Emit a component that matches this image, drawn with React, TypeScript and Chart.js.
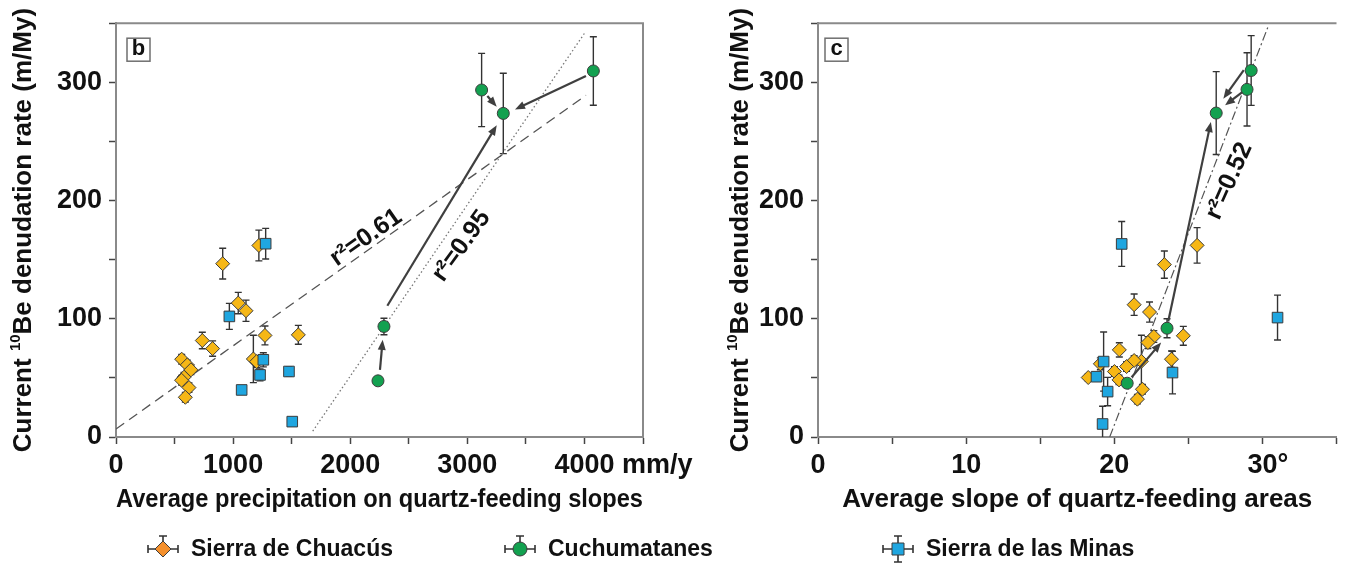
import React, { useEffect, useRef } from 'react';
import { Chart, registerables } from 'chart.js';

Chart.register(...registerables);

const FONT = '"Liberation Sans", Arial, Helvetica, sans-serif';

// ---------- Panel b : precipitation (mm/y) vs current 10Be denudation rate (m/My)
const precipChuacus = [911, 1044, 1110, 737, 825, 561, 609, 640, 581, 560, 623, 592, 1272, 1557, 1173, 1201, 1220];
const rateChuacusB = [146.6, 113.3, 106.8, 81.6, 74.8, 65.8, 61, 56.8, 50.6, 48, 41.8, 33.6, 85.9, 86.4, 66, 63.8, 162];
const errChuacusB = [13, 9, 9, 7, 6.5, 4, 4, 4, 4, 4, 4, 4, 8, 8, 20, 5, 13];

const precipCuchu = [2237, 2288, 3122, 3307, 4076];
const rateCuchuB = [47.5, 93.5, 293.5, 273.7, 309.6];
const errCuchuB = [0, 7, 31, 34, 29];

const precipMinas = [968, 1258, 1230, 1477, 1073, 1505, 1278];
const rateMinasB = [102, 65.3, 52.5, 55.4, 39.8, 13, 163.5];
const errMinasB = [11, 6, 5, 4, 0, 0, 13];

// regression lines (end points in data units)
const fitB061X = [0, 4013];
const fitB061Y = [6.8, 289];
const fitB095X = [1680, 4004];
const fitB095Y = [5, 342];

// arrows [x0, y0, x1, y1] in data units
const arrowsB = [
  [2254, 56.8, 2277, 82.2],
  [2317, 111, 3251, 263.6],
  [3171, 288.4, 3251, 279.4],
  [4013, 305.3, 3407, 277.1],
];

// ---------- Panel c : average slope (deg) vs current 10Be denudation rate (m/My)
const slopeChuacus = [25.59, 23.38, 21.34, 22.38, 24.66, 22.67, 22.27, 21.83, 20.34, 23.86, 21.34, 20.83, 20.01, 20.32, 19.06, 18.24, 21.9, 21.56];
const rateChuacusC = [162.1, 145.8, 111.9, 105.7, 85.6, 85, 79.9, 64, 73.7, 65.8, 64.7, 59.6, 55.4, 48.3, 61.9, 50.3, 40.4, 32];
const errChuacusC = [15, 11.5, 9, 8.5, 8, 5, 5, 22, 6, 7, 4, 4, 4, 4, 5, 3, 4, 4];

const slopeCuchu = [20.87, 23.56, 29.24, 28.96, 26.88];
const rateCuchuC = [45.5, 92, 310, 294, 274];
const errCuchuC = [0, 8, 29.5, 31, 35];

const slopeMinas = [20.5, 31.02, 23.93, 19.28, 18.8, 19.55, 19.21];
const rateMinasC = [163.3, 101, 54.5, 63.8, 51, 38.4, 11];
const errMinasC = [19, 19, 18, 25, 3, 12, 15];

const fitC052X = [19.69, 30.4];
const fitC052Y = [0, 347.7];

const arrowsC = [
  [28.74, 310.4, 27.36, 286.2],
  [28.64, 291.8, 27.48, 280.5],
  [23.64, 97.7, 26.52, 266.4],
  [21.17, 50.6, 23.16, 79.9],
];

const legendLabels = ['Sierra de Chuacús', 'Cuchumatanes', 'Sierra de las Minas'];

// ---------- styles
const GOLD = '#f6b716';
const ORANGE = '#f5902c';
const GREEN = '#13a150';
const BLUE = '#1fa6e0';
const EDGE = '#3c3c3c';
const AXIS = '#8a8a8a';
const TEXT = '#111111';

const zip = (xs: number[], ys: number[]) => xs.map((x, i) => ({ x, y: ys[i] }));

function drawArrow(ctx: CanvasRenderingContext2D, x0: number, y0: number, x1: number, y1: number) {
  const a = Math.atan2(y1 - y0, x1 - x0);
  const head = 10;
  const hw = 4;
  const c = Math.cos(a);
  const s = Math.sin(a);
  ctx.beginPath();
  ctx.moveTo(x0, y0);
  ctx.lineTo(x1 - c * head * 0.8, y1 - s * head * 0.8);
  ctx.stroke();
  ctx.beginPath();
  ctx.moveTo(x1, y1);
  ctx.lineTo(x1 - c * head + s * hw, y1 - s * head - c * hw);
  ctx.lineTo(x1 - c * head - s * hw, y1 - s * head + c * hw);
  ctx.closePath();
  ctx.fill();
}

function drawMarker(ctx: CanvasRenderingContext2D, kind: string, x: number, y: number, fill: string) {
  ctx.fillStyle = fill;
  ctx.strokeStyle = EDGE;
  ctx.lineWidth = 1;
  ctx.beginPath();
  if (kind === 'diamond') {
    const r = 8;
    ctx.moveTo(x - r, y);
    ctx.lineTo(x, y - r);
    ctx.lineTo(x + r, y);
    ctx.lineTo(x, y + r);
    ctx.closePath();
  } else if (kind === 'circle') {
    ctx.arc(x, y, 7, 0, Math.PI * 2);
  } else {
    ctx.rect(x - 6, y - 6, 12, 12);
  }
  ctx.fill();
  ctx.stroke();
}

function drawYTitle(ctx: CanvasRenderingContext2D, cx: number, cy: number) {
  const big = `bold 26px ${FONT}`;
  const small = `bold 15px ${FONT}`;
  const parts: [string, string, number][] = [
    ['Current ', big, 0],
    ['10', small, -8],
    ['Be denudation rate (m/My)', big, 0],
  ];
  ctx.save();
  ctx.translate(cx, cy);
  ctx.rotate(-Math.PI / 2);
  let total = 0;
  parts.forEach((p) => {
    ctx.font = p[1];
    total += ctx.measureText(p[0]).width;
  });
  let x = -total / 2;
  ctx.textAlign = 'left';
  ctx.textBaseline = 'middle';
  ctx.fillStyle = TEXT;
  parts.forEach((p) => {
    ctx.font = p[1];
    ctx.fillText(p[0], x, p[2]);
    x += ctx.measureText(p[0]).width;
  });
  ctx.restore();
}

const errorBarPlugin = {
  id: 'errorBars',
  beforeDatasetsDraw(chart: any) {
    const { ctx, chartArea, scales } = chart;
    const xs = scales.x;
    const ys = scales.y;
    ctx.save();
    ctx.beginPath();
    ctx.rect(chartArea.left, chartArea.top, chartArea.right - chartArea.left, chartArea.bottom - chartArea.top);
    ctx.clip();
    ctx.strokeStyle = '#333';
    ctx.lineWidth = 1.4;
    chart.data.datasets.forEach((ds: any) => {
      if (!ds.errors) return;
      ds.data.forEach((pt: any, i: number) => {
        const e = ds.errors[i];
        if (!e) return;
        const px = xs.getPixelForValue(pt.x);
        const top = ys.getPixelForValue(pt.y + e);
        const bot = ys.getPixelForValue(pt.y - e);
        ctx.beginPath();
        ctx.moveTo(px, top);
        ctx.lineTo(px, bot);
        ctx.moveTo(px - 3.5, top);
        ctx.lineTo(px + 3.5, top);
        ctx.moveTo(px - 3.5, bot);
        ctx.lineTo(px + 3.5, bot);
        ctx.stroke();
      });
    });
    ctx.restore();
  },
};

function makeConfig(p: any) {
  const tickFont = { family: FONT, size: 27, weight: 'bold' };
  const fitDatasets = p.fits.map((f: any) => ({
    label: f.name,
    data: zip(f.x, f.y),
    showLine: true,
    pointRadius: 0,
    borderColor: f.color,
    borderWidth: f.width,
    borderDash: f.dash,
    fill: false,
    order: 5,
  }));
  const annotPlugin = {
    id: 'annot' + p.letter,
    afterDatasetsDraw(chart: any) {
      const { ctx, scales } = chart;
      const xs = scales.x;
      const ys = scales.y;
      ctx.save();
      ctx.strokeStyle = '#3f3f3f';
      ctx.fillStyle = '#3f3f3f';
      ctx.lineWidth = 2.2;
      p.arrows.forEach((a: number[]) => {
        drawArrow(ctx, xs.getPixelForValue(a[0]), ys.getPixelForValue(a[1]), xs.getPixelForValue(a[2]), ys.getPixelForValue(a[3]));
      });
      ctx.restore();
    },
    afterDraw(chart: any) {
      const { ctx, chartArea, scales } = chart;
      const xs = scales.x;
      const ys = scales.y;
      ctx.save();
      // frame (top / right)
      ctx.strokeStyle = AXIS;
      ctx.lineWidth = 2;
      ctx.beginPath();
      ctx.moveTo(chartArea.left, chartArea.top);
      ctx.lineTo(chartArea.right, chartArea.top);
      if (p.closeRight) ctx.lineTo(chartArea.right, chartArea.bottom);
      ctx.stroke();

      // fit labels
      ctx.fillStyle = TEXT;
      ctx.font = `bold 25px ${FONT}`;
      ctx.textAlign = 'center';
      ctx.textBaseline = 'middle';
      p.labels.forEach((l: any) => {
        ctx.save();
        ctx.translate(xs.getPixelForValue(l.x), ys.getPixelForValue(l.y));
        ctx.rotate((l.angle * Math.PI) / 180);
        ctx.fillText(l.text, 0, 0);
        ctx.restore();
      });

      // panel letter
      const bx = chartArea.left + p.letterDx;
      const by = chartArea.top + 15;
      ctx.fillStyle = '#fff';
      ctx.strokeStyle = '#6f6f6f';
      ctx.lineWidth = 1.5;
      ctx.fillRect(bx, by, 23, 23);
      ctx.strokeRect(bx, by, 23, 23);
      ctx.fillStyle = TEXT;
      ctx.font = `bold 22px ${FONT}`;
      ctx.fillText(p.letter, bx + 11.5, by + 11);

      // unit suffix after last labelled tick
      ctx.font = `bold 27px ${FONT}`;
      const w = ctx.measureText(String(p.suffixValue)).width;
      ctx.textAlign = 'left';
      const ty = chartArea.bottom + 7 + 5 + (27 * 1.2) / 2;
      ctx.fillText(p.suffix, xs.getPixelForValue(p.suffixValue) + w / 2, ty);

      // y title
      drawYTitle(ctx, p.yTitleX, (chartArea.top + chartArea.bottom) / 2);

      // legend (drawn once, by panel b)
      if (p.legend) {
        const kinds = ['diamond', 'circle', 'square'];
        const fills = [ORANGE, GREEN, BLUE];
        const mx = [163, 520, 898];
        const my = 549;
        kinds.forEach((k, i) => {
          const x = mx[i];
          ctx.strokeStyle = '#333';
          ctx.lineWidth = 1.6;
          ctx.beginPath();
          ctx.moveTo(x - 15, my);
          ctx.lineTo(x + 15, my);
          ctx.moveTo(x - 15, my - 4);
          ctx.lineTo(x - 15, my + 4);
          ctx.moveTo(x + 15, my - 4);
          ctx.lineTo(x + 15, my + 4);
          ctx.moveTo(x, my);
          ctx.lineTo(x, my - 13);
          ctx.moveTo(x - 4, my - 13);
          ctx.lineTo(x + 4, my - 13);
          if (k === 'square') {
            ctx.moveTo(x, my);
            ctx.lineTo(x, my + 13);
            ctx.moveTo(x - 4, my + 13);
            ctx.lineTo(x + 4, my + 13);
          }
          ctx.stroke();
          drawMarker(ctx, k, x, my, fills[i]);
          ctx.fillStyle = TEXT;
          ctx.font = `bold 23px ${FONT}`;
          ctx.textAlign = 'left';
          ctx.textBaseline = 'middle';
          ctx.fillText(legendLabels[i], x + 28, my + 1);
        });
      }
      ctx.restore();
    },
  };

  return {
    type: 'scatter',
    data: {
      datasets: [
        {
          label: legendLabels[1],
          data: zip(p.cu[0], p.cu[1]),
          errors: p.cu[2],
          pointStyle: 'circle',
          pointRadius: 6,
          backgroundColor: GREEN,
          borderColor: EDGE,
          borderWidth: 1,
          order: 0,
        },
        {
          label: legendLabels[2],
          data: zip(p.mi[0], p.mi[1]),
          errors: p.mi[2],
          pointStyle: 'rect',
          pointRadius: 7.5,
          backgroundColor: BLUE,
          borderColor: EDGE,
          borderWidth: 1,
          order: 1,
        },
        {
          label: legendLabels[0],
          data: zip(p.ch[0], p.ch[1]),
          errors: p.ch[2],
          pointStyle: 'rectRot',
          pointRadius: 7,
          backgroundColor: GOLD,
          borderColor: EDGE,
          borderWidth: 1,
          order: 2,
        },
        ...fitDatasets,
      ],
    },
    options: {
      responsive: false,
      animation: false,
      devicePixelRatio: 1,
      events: [],
      layout: { padding: { left: p.padLeft, right: p.padRight, top: 23, bottom: 62.4 } },
      plugins: { legend: { display: false }, tooltip: { enabled: false } },
      scales: {
        x: {
          type: 'linear',
          min: 0,
          max: p.xMax,
          afterFit: (s: any) => {
            s.height = 78.6;
          },
          border: { display: true, color: AXIS, width: 2 },
          grid: { drawOnChartArea: false, drawTicks: true, tickLength: 7, tickColor: '#444', tickWidth: 1.5 },
          ticks: {
            stepSize: p.xStep,
            autoSkip: false,
            maxRotation: 0,
            padding: 5,
            color: TEXT,
            font: tickFont,
            callback: (v: number) => (v % p.xMajor === 0 && v <= p.suffixValue ? String(v) : ''),
          },
          title: {
            display: true,
            text: p.xTitle,
            color: TEXT,
            padding: 0,
            font: { family: FONT, size: 26, weight: 'bold' },
          },
        },
        y: {
          type: 'linear',
          min: 0,
          max: 350,
          afterFit: (s: any) => {
            s.width = 116;
          },
          border: { display: true, color: AXIS, width: 2 },
          grid: { drawOnChartArea: false, drawTicks: true, tickLength: 7, tickColor: '#444', tickWidth: 1.5 },
          ticks: {
            stepSize: 50,
            autoSkip: false,
            padding: 7,
            color: TEXT,
            font: tickFont,
            callback: (v: number) => (v % 100 === 0 ? String(v) : ''),
          },
        },
      },
    },
    plugins: [errorBarPlugin, annotPlugin],
  };
}

const panelB = {
  letter: 'b',
  letterDx: 11,
  xMax: 4500,
  xStep: 500,
  xMajor: 1000,
  suffixValue: 4000,
  suffix: ' mm/y',
  xTitle: 'Average precipitation on quartz-feeding slopes',
  padLeft: 0,
  padRight: 702,
  yTitleX: 24,
  closeRight: true,
  legend: true,
  ch: [precipChuacus, rateChuacusB, errChuacusB],
  cu: [precipCuchu, rateCuchuB, errCuchuB],
  mi: [precipMinas, rateMinasB, errMinasB],
  fits: [
    { name: 'fit r2=0.61', x: fitB061X, y: fitB061Y, color: '#555', width: 1.3, dash: [10, 6] },
    { name: 'fit r2=0.95', x: fitB095X, y: fitB095Y, color: '#777', width: 1.3, dash: [1.5, 2.5] },
  ],
  arrows: arrowsB,
  labels: [
    { text: 'r²=0.61', x: 2135, y: 168.6, angle: -35 },
    { text: 'r²=0.95', x: 2950, y: 161.4, angle: -54 },
  ],
};

const panelC = {
  letter: 'c',
  letterDx: 7,
  xMax: 35,
  xStep: 5,
  xMajor: 10,
  suffixValue: 30,
  suffix: '°',
  xTitle: 'Average slope of quartz-feeding areas',
  padLeft: 702,
  padRight: 0,
  yTitleX: 741,
  closeRight: false,
  legend: false,
  ch: [slopeChuacus, rateChuacusC, errChuacusC],
  cu: [slopeCuchu, rateCuchuC, errCuchuC],
  mi: [slopeMinas, rateMinasC, errMinasC],
  fits: [{ name: 'fit r2=0.52', x: fitC052X, y: fitC052Y, color: '#555', width: 1.2, dash: [9, 3, 2, 3] }],
  arrows: arrowsC,
  labels: [{ text: 'r²=0.52', x: 27.76, y: 216.5, angle: -66 }],
};

export default function App() {
  const leftRef = useRef<HTMLCanvasElement>(null);
  const rightRef = useRef<HTMLCanvasElement>(null);

  useEffect(() => {
    const c1 = new Chart(leftRef.current as HTMLCanvasElement, makeConfig(panelB) as any);
    const c2 = new Chart(rightRef.current as HTMLCanvasElement, makeConfig(panelC) as any);
    return () => {
      c1.destroy();
      c2.destroy();
    };
  }, []);

  const canvasStyle: React.CSSProperties = { position: 'absolute', left: 0, top: 0, width: 1345, height: 578 };
  return (
    <div style={{ position: 'fixed', left: 0, top: 0, width: 1345, height: 578, background: '#fff', overflow: 'hidden' }}>
      <canvas ref={leftRef} width={1345} height={578} style={canvasStyle} />
      <canvas ref={rightRef} width={1345} height={578} style={canvasStyle} />
    </div>
  );
}
